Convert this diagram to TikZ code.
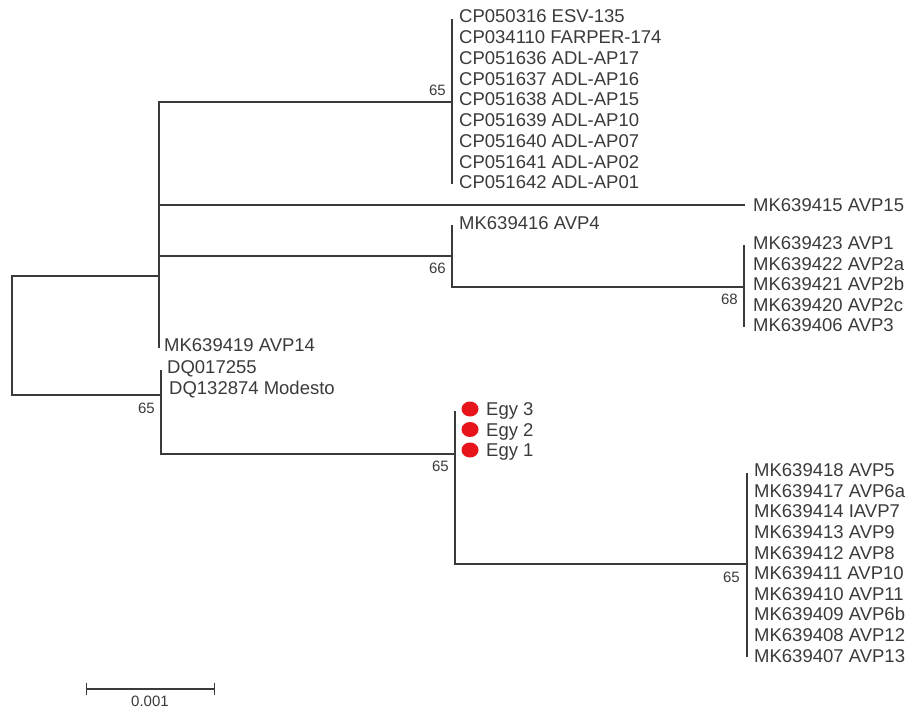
\documentclass[tikz,border=0pt]{standalone}
\usepackage{fontspec}
\setmainfont{Liberation Sans}
\usetikzlibrary{arrows.meta, calc}
\definecolor{ink}{HTML}{3A3A3A}
\definecolor{egyred}{HTML}{E8141B}

\begin{document}
\begin{tikzpicture}[
  x=1pt, y=-1pt,
  branch/.style={draw=ink, line width=1.3pt},
  leaf/.style={anchor=west, inner sep=0pt, text height=13.2pt, text depth=0pt, font=\fontsize{18.5}{20}\selectfont, text=ink},
  boot/.style={anchor=east, inner sep=0pt, text height=10.7pt, text depth=0pt, font=\fontsize{15}{16}\selectfont, text=ink},
]

% Canvas
\useasboundingbox (0,0) rectangle (913,709);

% Internal nodes
\coordinate (root) at (12,335);
\coordinate (nU) at (159,276);
\coordinate (nL) at (161,395);
\coordinate (c1) at (452,102);
\coordinate (c2) at (452,256);
\coordinate (c3) at (744,287);
\coordinate (c4) at (455,454);
\coordinate (c5) at (747,564);

% Root
\draw[branch] (root) |- (nU);
\draw[branch] (root) |- (nL);

% Upper clade
\draw[branch] (nU) |- (c1);
\draw[branch] (nU) |- (c2);
\node[leaf] (avp15) at (753,205) {MK639415 AVP15};
\draw[branch, shorten >=8pt] (nU) |- (avp15.west);
\node[leaf] (avp14) at (164,345) {MK639419 AVP14};
\draw[branch] (nU) -- ([yshift=-3pt]nU |- avp14.west);

% Clade 1
\foreach \lab [count=\i] in {CP050316 ESV-135, CP034110 FARPER-174, CP051636 ADL-AP17,
  CP051637 ADL-AP16, CP051638 ADL-AP15, CP051639 ADL-AP10, CP051640 ADL-AP07,
  CP051641 ADL-AP02, CP051642 ADL-AP01} {
  \node[leaf] (cp\i) at (459, {16.3+20.75*(\i-1)}) {\lab};
}
\draw[branch] ([yshift=-3pt]c1 |- cp1.west) -- ([yshift=-2pt]c1 |- cp9.west);
\node[boot] (b1) at (446,90) {65};

% Clade 2
\node[leaf] (avp4) at (459,223) {MK639416 AVP4};
\draw[branch] (c2) -- ([yshift=-2pt]c2 |- avp4.west);
\draw[branch] (c2) |- (c3);
\node[boot] (b2) at (446,268) {66};

% Clade 3
\foreach \lab [count=\i] in {MK639423 AVP1, MK639422 AVP2a, MK639421 AVP2b,
  MK639420 AVP2c, MK639406 AVP3} {
  \node[leaf] (av\i) at (753, {243+20.5*(\i-1)}) {\lab};
}
\draw[branch] ([yshift=-2pt]c3 |- av1.west) -- ([yshift=-2pt]c3 |- av5.west);
\node[boot] (b3) at (738,299) {68};

% Lower clade
\node[leaf] (dq1) at (167,367) {DQ017255};
\node[leaf] (dq2) at (169,388) {DQ132874 Modesto};
\draw[branch] (nL) -- ([yshift=-3pt]nL |- dq1.west);
\draw[branch, line width=2.6pt] ($(nL)+(0,-5)$) -- ($(nL)+(0,27)$);
\draw[branch] (nL) |- (c4);
\node[boot] (b4) at (155,408) {65};

% Egyptian isolates
\foreach \n [count=\i] in {3,2,1} {
  \node[leaf] (egy\i) at (486, {409+20.5*(\i-1)}) {Egy \n};
  \fill[egyred] ($(egy\i.west)+(-16,0)$) ellipse (8.5 and 7.5);
}
\draw[branch] ([yshift=-2pt]c4 |- egy1.west) |- (c5);
\node[boot] (b5) at (449,466) {65};

% Clade 5
\foreach \lab [count=\i] in {MK639418 AVP5, MK639417 AVP6a, MK639414 IAVP7,
  MK639413 AVP9, MK639412 AVP8, MK639411 AVP10, MK639410 AVP11,
  MK639409 AVP6b, MK639408 AVP12, MK639407 AVP13} {
  \node[leaf] (mk\i) at (754, {470+20.6*(\i-1)}) {\lab};
}
\draw[branch] ([yshift=-3pt]c5 |- mk1.west) -- ([yshift=-2pt]c5 |- mk10.west);
\node[boot] (b6) at (740,577) {65};

% Scale bar
\coordinate (sbL) at (86,689);
\coordinate (sbR) at (215,689);
\draw[branch, {Bar[width=12pt]}-{Bar[width=12pt]}] (sbL) -- (sbR);
\node[boot, anchor=center] (sblab) at (150,701) {0.001};

\end{tikzpicture}
\end{document}
